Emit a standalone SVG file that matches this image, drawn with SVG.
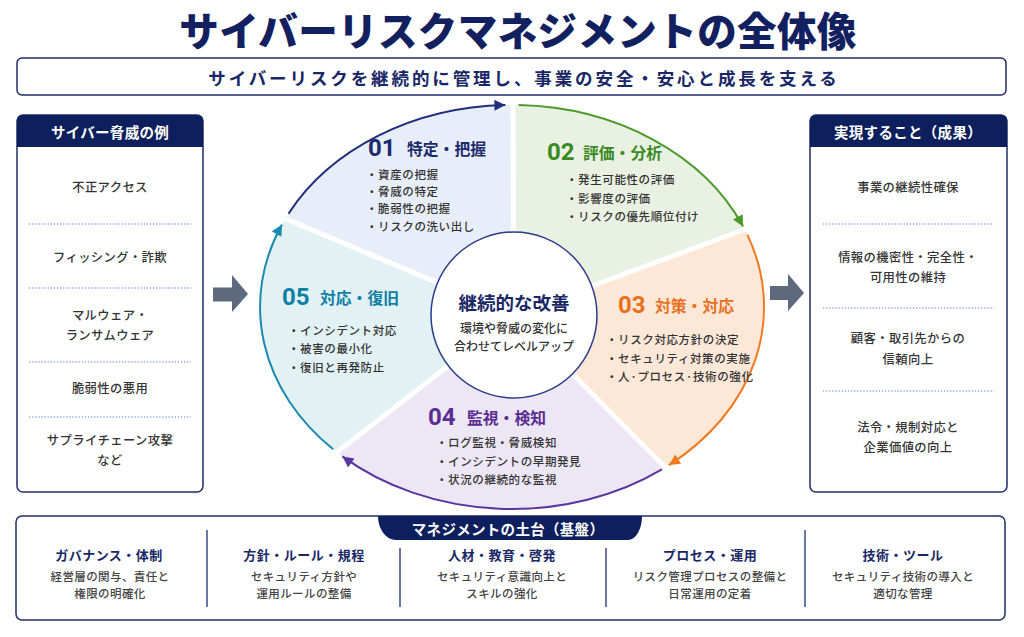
<svg xmlns="http://www.w3.org/2000/svg" width="1024" height="637" viewBox="0 0 1024 637">
<defs>
<style>
.jp{font-family:"Noto Sans CJK JP","Noto Sans",sans-serif}
.title{font-family:"Noto Sans CJK JP","Noto Sans",sans-serif;font-weight:900;font-size:39.5px;fill:#12205f;letter-spacing:0.4px}
.sub{font-family:"Noto Sans CJK JP","Noto Sans",sans-serif;font-weight:700;font-size:17.5px;fill:#1a2766;letter-spacing:2.9px}
.hdr{font-family:"Noto Sans CJK JP","Noto Sans",sans-serif;font-weight:700;font-size:14.5px;fill:#ffffff;letter-spacing:0.3px}
.item{font-family:"Noto Sans CJK JP","Noto Sans",sans-serif;font-weight:500;font-size:12.3px;fill:#333333;letter-spacing:0.4px}
.num{font-family:Roboto,Inter,"Noto Sans",sans-serif;font-weight:700;font-size:24px}
.sec{font-family:"Noto Sans CJK JP","Noto Sans",sans-serif;font-weight:700;font-size:15.8px}
.bul{font-family:"Noto Sans CJK JP","Noto Sans",sans-serif;font-weight:500;font-size:11.5px;fill:#333333;letter-spacing:0.6px}
.panel{fill:#ffffff;stroke:#1f2d6b;stroke-width:1.5}
.dot{stroke:#5a7fd0;stroke-width:1.2;stroke-dasharray:1.3 1.8;fill:none}
.gap{stroke:#ffffff;stroke-width:5;fill:none}
.arc{fill:none;stroke-width:2}
.colh{font-family:"Noto Sans CJK JP","Noto Sans",sans-serif;font-weight:700;font-size:13px;fill:#1a2766;letter-spacing:0.5px}
.cold{font-family:"Noto Sans CJK JP","Noto Sans",sans-serif;font-weight:500;font-size:11.5px;fill:#444444;letter-spacing:0.4px}
.div{stroke:#3a4a8a;stroke-width:1.5}
.garrow{fill:#5d6a7e}
</style>
<marker id="mNavy" viewBox="0 0 10 10" refX="10" refY="5" markerUnits="userSpaceOnUse" markerWidth="12" markerHeight="11" orient="auto"><path d="M0,0 L10,5 L0,10 z" fill="#1f2d7a"/></marker>
<marker id="mGreen" viewBox="0 0 10 10" refX="10" refY="5" markerUnits="userSpaceOnUse" markerWidth="12" markerHeight="11" orient="auto"><path d="M0,0 L10,5 L0,10 z" fill="#4a9a2a"/></marker>
<marker id="mOrange" viewBox="0 0 10 10" refX="10" refY="5" markerUnits="userSpaceOnUse" markerWidth="12" markerHeight="11" orient="auto"><path d="M0,0 L10,5 L0,10 z" fill="#f07a20"/></marker>
<marker id="mPurple" viewBox="0 0 10 10" refX="10" refY="5" markerUnits="userSpaceOnUse" markerWidth="12" markerHeight="11" orient="auto"><path d="M0,0 L10,5 L0,10 z" fill="#5a35a0"/></marker>
<marker id="mTeal" viewBox="0 0 10 10" refX="10" refY="5" markerUnits="userSpaceOnUse" markerWidth="12" markerHeight="11" orient="auto"><path d="M0,0 L10,5 L0,10 z" fill="#1a8ab0"/></marker>
</defs>
<rect width="1024" height="637" fill="#ffffff"/>

<g id="title">
<text class="title" x="518" y="28" text-anchor="middle" dominant-baseline="central">サイバーリスクマネジメントの全体像</text>
</g>

<g id="subtitle">
<rect class="panel" x="17" y="58" width="989" height="37" rx="5"/>
<text class="sub" x="524" y="77" text-anchor="middle" dominant-baseline="central">サイバーリスクを継続的に管理し、事業の安全・安心と成長を支える</text>
</g>

<g id="threats">
<rect class="panel" x="17" y="115" width="186" height="377" rx="6"/>
<path d="M17,147 V121 A6,6 0 0 1 23,115 H197 A6,6 0 0 1 203,121 V147 Z" fill="#0d1f5c"/>
<text class="hdr" x="110" y="131" text-anchor="middle" dominant-baseline="central">サイバー脅威の例</text>
<text class="item" x="110" y="187" text-anchor="middle" dominant-baseline="central">不正アクセス</text>
<line class="dot" x1="29" y1="224" x2="191" y2="224"/>
<text class="item" x="110" y="257" text-anchor="middle" dominant-baseline="central">フィッシング・詐欺</text>
<line class="dot" x1="29" y1="288" x2="191" y2="288"/>
<text class="item" x="110" y="315" text-anchor="middle" dominant-baseline="central">マルウェア・</text>
<text class="item" x="110" y="335" text-anchor="middle" dominant-baseline="central">ランサムウェア</text>
<line class="dot" x1="29" y1="362" x2="191" y2="362"/>
<text class="item" x="110" y="388" text-anchor="middle" dominant-baseline="central">脆弱性の悪用</text>
<line class="dot" x1="29" y1="417" x2="191" y2="417"/>
<text class="item" x="110" y="440" text-anchor="middle" dominant-baseline="central">サプライチェーン攻撃</text>
<text class="item" x="110" y="460" text-anchor="middle" dominant-baseline="central">など</text>
</g>

<g id="outcomes">
<rect class="panel" x="810" y="115" width="197" height="377" rx="6"/>
<path d="M810,147 V121 A6,6 0 0 1 816,115 H1001 A6,6 0 0 1 1007,121 V147 Z" fill="#0d1f5c"/>
<text class="hdr" x="908" y="131" text-anchor="middle" dominant-baseline="central">実現すること（成果）</text>
<text class="item" x="908" y="187" text-anchor="middle" dominant-baseline="central">事業の継続性確保</text>
<line class="dot" x1="823" y1="224" x2="994" y2="224"/>
<text class="item" x="908" y="257" text-anchor="middle" dominant-baseline="central">情報の機密性・完全性・</text>
<text class="item" x="908" y="277" text-anchor="middle" dominant-baseline="central">可用性の維持</text>
<line class="dot" x1="823" y1="308" x2="994" y2="308"/>
<text class="item" x="908" y="338" text-anchor="middle" dominant-baseline="central">顧客・取引先からの</text>
<text class="item" x="908" y="359" text-anchor="middle" dominant-baseline="central">信頼向上</text>
<line class="dot" x1="823" y1="391" x2="994" y2="391"/>
<text class="item" x="908" y="427" text-anchor="middle" dominant-baseline="central">法令・規制対応と</text>
<text class="item" x="908" y="447" text-anchor="middle" dominant-baseline="central">企業価値の向上</text>
</g>

<g id="flow-arrows">
<path class="garrow" d="M213,287.5 H232 V275 L248,294 L232,312 V301.5 H213 Z"/>
<path class="garrow" d="M770,286 H788 V274 L804,293 L788,311 V300 H770 Z"/>
</g>

<g id="seg01">
<path d="M514,315 L285.5,218.4 A252,202 0 0 1 513,105 Z" fill="#e8eef9"/>
</g>
<g id="seg02">
<path d="M514,315 L513,105 A252,202 0 0 1 744.8,229.7 Z" fill="#e9f1e2"/>
</g>
<g id="seg03">
<path d="M514,315 L744.8,229.7 A252,202 0 0 1 665.4,467.3 Z" fill="#fde8d8"/>
</g>
<g id="seg04">
<path d="M514,315 L665.4,467.3 A252,202 0 0 1 336.9,452.3 Z" fill="#ece6f5"/>
</g>
<g id="seg05">
<path d="M514,315 L336.9,452.3 A252,202 0 0 1 285.5,218.4 Z" fill="#e2f1f4"/>
</g>

<g id="gaps">
<line class="gap" x1="514" y1="315" x2="513" y2="100"/>
<line class="gap" x1="514" y1="315" x2="751" y2="227"/>
<line class="gap" x1="514" y1="315" x2="670" y2="472"/>
<line class="gap" x1="514" y1="315" x2="332" y2="456"/>
<line class="gap" x1="514" y1="315" x2="279" y2="216"/>
</g>

<g id="connectors">
<path class="arc" stroke="#1f2d7a" d="M288.5,213.7 A252,202 0 0 1 505.4,105.1" marker-end="url(#mNavy)"/>
<path class="arc" stroke="#4a9a2a" d="M518.6,105.1 A252,202 0 0 1 743.1,226.5" marker-end="url(#mGreen)"/>
<path class="arc" stroke="#f07a20" d="M747.3,234.6 A252,202 0 0 1 668.9,465.1" marker-end="url(#mOrange)"/>
<path class="arc" stroke="#5a35a0" d="M661.9,469.4 A252,202 0 0 1 342.4,456.4" marker-end="url(#mPurple)"/>
<path class="arc" stroke="#1a8ab0" d="M333.2,449.3 A252,202 0 0 1 282,224.5" marker-end="url(#mTeal)"/>
</g>

<g id="seg01-text">
<text x="368" y="148" dominant-baseline="central"><tspan class="num" fill="#1b2a6b">01</tspan></text>
<text class="sec" x="407" y="148" dominant-baseline="central" fill="#1b2a6b">特定・把握</text>
<text class="bul" x="366" y="174" dominant-baseline="central">・資産の把握</text>
<text class="bul" x="366" y="191" dominant-baseline="central">・脅威の特定</text>
<text class="bul" x="366" y="208" dominant-baseline="central">・脆弱性の把握</text>
<text class="bul" x="366" y="226" dominant-baseline="central">・リスクの洗い出し</text>
</g>

<g id="seg02-text">
<text x="547" y="152" dominant-baseline="central"><tspan class="num" fill="#3a8a23">02</tspan></text>
<text class="sec" x="583" y="152" dominant-baseline="central" fill="#3a8a23">評価・分析</text>
<text class="bul" x="566" y="179" dominant-baseline="central">・発生可能性の評価</text>
<text class="bul" x="566" y="198" dominant-baseline="central">・影響度の評価</text>
<text class="bul" x="566" y="216" dominant-baseline="central">・リスクの優先順位付け</text>
</g>

<g id="seg03-text">
<text x="618" y="305" dominant-baseline="central"><tspan class="num" fill="#e8701e">03</tspan></text>
<text class="sec" x="655" y="305" dominant-baseline="central" fill="#e8701e">対策・対応</text>
<text class="bul" x="606" y="339" dominant-baseline="central">・リスク対応方針の決定</text>
<text class="bul" x="606" y="358" dominant-baseline="central">・セキュリティ対策の実施</text>
<text class="bul" x="606" y="376" dominant-baseline="central">・人·プロセス·技術の強化</text>
</g>

<g id="seg04-text">
<text x="428" y="417" dominant-baseline="central"><tspan class="num" fill="#5b2e91">04</tspan></text>
<text class="sec" x="467" y="417" dominant-baseline="central" fill="#5b2e91">監視・検知</text>
<text class="bul" x="436" y="442" dominant-baseline="central">・ログ監視・脅威検知</text>
<text class="bul" x="436" y="461" dominant-baseline="central">・インシデントの早期発見</text>
<text class="bul" x="436" y="479" dominant-baseline="central">・状況の継続的な監視</text>
</g>

<g id="seg05-text">
<text x="282" y="297" dominant-baseline="central"><tspan class="num" fill="#0f7fa6">05</tspan></text>
<text class="sec" x="320" y="297" dominant-baseline="central" fill="#0f7fa6">対応・復旧</text>
<text class="bul" x="288" y="330" dominant-baseline="central">・インシデント対応</text>
<text class="bul" x="288" y="348" dominant-baseline="central">・被害の最小化</text>
<text class="bul" x="288" y="367" dominant-baseline="central">・復旧と再発防止</text>
</g>

<g id="center">
<circle cx="514" cy="315" r="83" fill="#ffffff" stroke="#2a3a8a" stroke-width="1.5"/>
<text class="jp" x="514" y="302" text-anchor="middle" dominant-baseline="central" font-size="18.5" font-weight="700" fill="#1a2766">継続的な改善</text>
<text class="jp" x="514" y="327" text-anchor="middle" dominant-baseline="central" font-size="12" font-weight="500" fill="#333333">環境や脅威の変化に</text>
<text class="jp" x="514" y="345" text-anchor="middle" dominant-baseline="central" font-size="12" font-weight="500" fill="#333333">合わせてレベルアップ</text>
</g>

<g id="foundation">
<rect class="panel" x="16" y="516" width="989" height="104" rx="6"/>
<path d="M378,516 H642 A14,24 0 0 1 628,540 H396 A18,24 0 0 1 378,516 Z" fill="#0d1f5c"/>
<text class="hdr" x="508" y="528" text-anchor="middle" dominant-baseline="central">マネジメントの土台（基盤）</text>
<line class="div" x1="207" y1="530" x2="207" y2="607"/>
<line class="div" x1="400" y1="548" x2="400" y2="607"/>
<line class="div" x1="606" y1="548" x2="606" y2="607"/>
<line class="div" x1="805" y1="530" x2="805" y2="607"/>
<text class="colh" x="109" y="554" text-anchor="middle" dominant-baseline="central">ガバナンス・体制</text>
<text class="cold" x="110" y="576" text-anchor="middle" dominant-baseline="central">経営層の関与、責任と</text>
<text class="cold" x="110" y="593" text-anchor="middle" dominant-baseline="central">権限の明確化</text>
<text class="colh" x="304" y="554" text-anchor="middle" dominant-baseline="central">方針・ルール・規程</text>
<text class="cold" x="304" y="576" text-anchor="middle" dominant-baseline="central">セキュリティ方針や</text>
<text class="cold" x="304" y="593" text-anchor="middle" dominant-baseline="central">運用ルールの整備</text>
<text class="colh" x="502" y="554" text-anchor="middle" dominant-baseline="central">人材・教育・啓発</text>
<text class="cold" x="502" y="576" text-anchor="middle" dominant-baseline="central">セキュリティ意識向上と</text>
<text class="cold" x="502" y="593" text-anchor="middle" dominant-baseline="central">スキルの強化</text>
<text class="colh" x="710" y="554" text-anchor="middle" dominant-baseline="central">プロセス・運用</text>
<text class="cold" x="710" y="576" text-anchor="middle" dominant-baseline="central">リスク管理プロセスの整備と</text>
<text class="cold" x="710" y="593" text-anchor="middle" dominant-baseline="central">日常運用の定着</text>
<text class="colh" x="903" y="554" text-anchor="middle" dominant-baseline="central">技術・ツール</text>
<text class="cold" x="903" y="576" text-anchor="middle" dominant-baseline="central">セキュリティ技術の導入と</text>
<text class="cold" x="903" y="593" text-anchor="middle" dominant-baseline="central">適切な管理</text>
</g>
</svg>
